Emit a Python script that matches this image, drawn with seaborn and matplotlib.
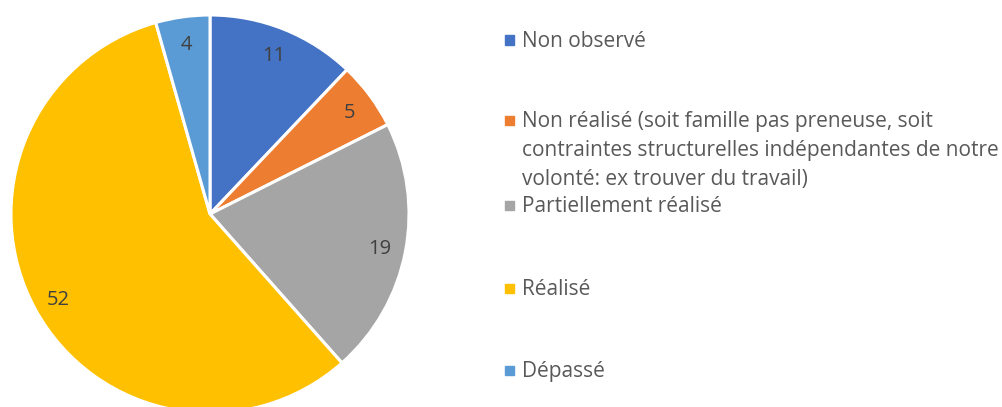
import matplotlib
matplotlib.use("Agg")
import matplotlib.pyplot as plt
import seaborn as sns

# data
categories = [
    "Non observé",
    "Non réalisé (soit famille pas preneuse, soit\ncontraintes structurelles indépendantes de notre\nvolonté: ex trouver du travail)",
    "Partiellement réalisé",
    "Réalisé",
    "Dépassé",
]
values = [11, 5, 19, 52, 4]
colors = ["#4472C4", "#ED7D31", "#A5A5A5", "#FFC000", "#5B9BD5"]

sns.set_theme(style="white")
plt.rcParams["font.family"] = ["Open Sans", "DejaVu Sans"]

W, H = 1003, 407
fig = plt.figure(figsize=(W / 100, H / 100), dpi=100)

# pie axes, centre ~ (210, 214) px, radius ~ 199 px
cx, cy, r = 210, 214, 199
ax = fig.add_axes([(cx - r) / W, (H - cy - r) / H, 2 * r / W, 2 * r / H])
wedges, texts = ax.pie(
    values,
    colors=colors,
    startangle=90,
    counterclock=False,
    labels=[str(v) for v in values],
    labeldistance=0.87,
    wedgeprops=dict(edgecolor="white", linewidth=2.2),
    textprops=dict(color="#404040", fontsize=14.5),
)
for t in texts:
    t.set_ha("center")
    t.set_va("center_baseline")
ax.set_xlim(-1, 1)
ax.set_ylim(-1, 1)
ax.set_aspect("equal")
ax.axis("off")

# legend drawn by hand because the entries are spaced unevenly
legend_y = [40, 120, 205, 288, 370]   # pixel y of the first text line centre
for lab, col, y in zip(categories, colors, legend_y):
    fig.patches.append(plt.Rectangle((505 / W, (H - y - 4.5) / H), 9 / W, 9 / H,
                                     transform=fig.transFigure, color=col))
    fig.text(522 / W, (H - y + 9) / H, lab, ha="left", va="top",
             fontsize=15, color="#595959", linespacing=1.5)

fig.savefig("out.png", dpi=100)
